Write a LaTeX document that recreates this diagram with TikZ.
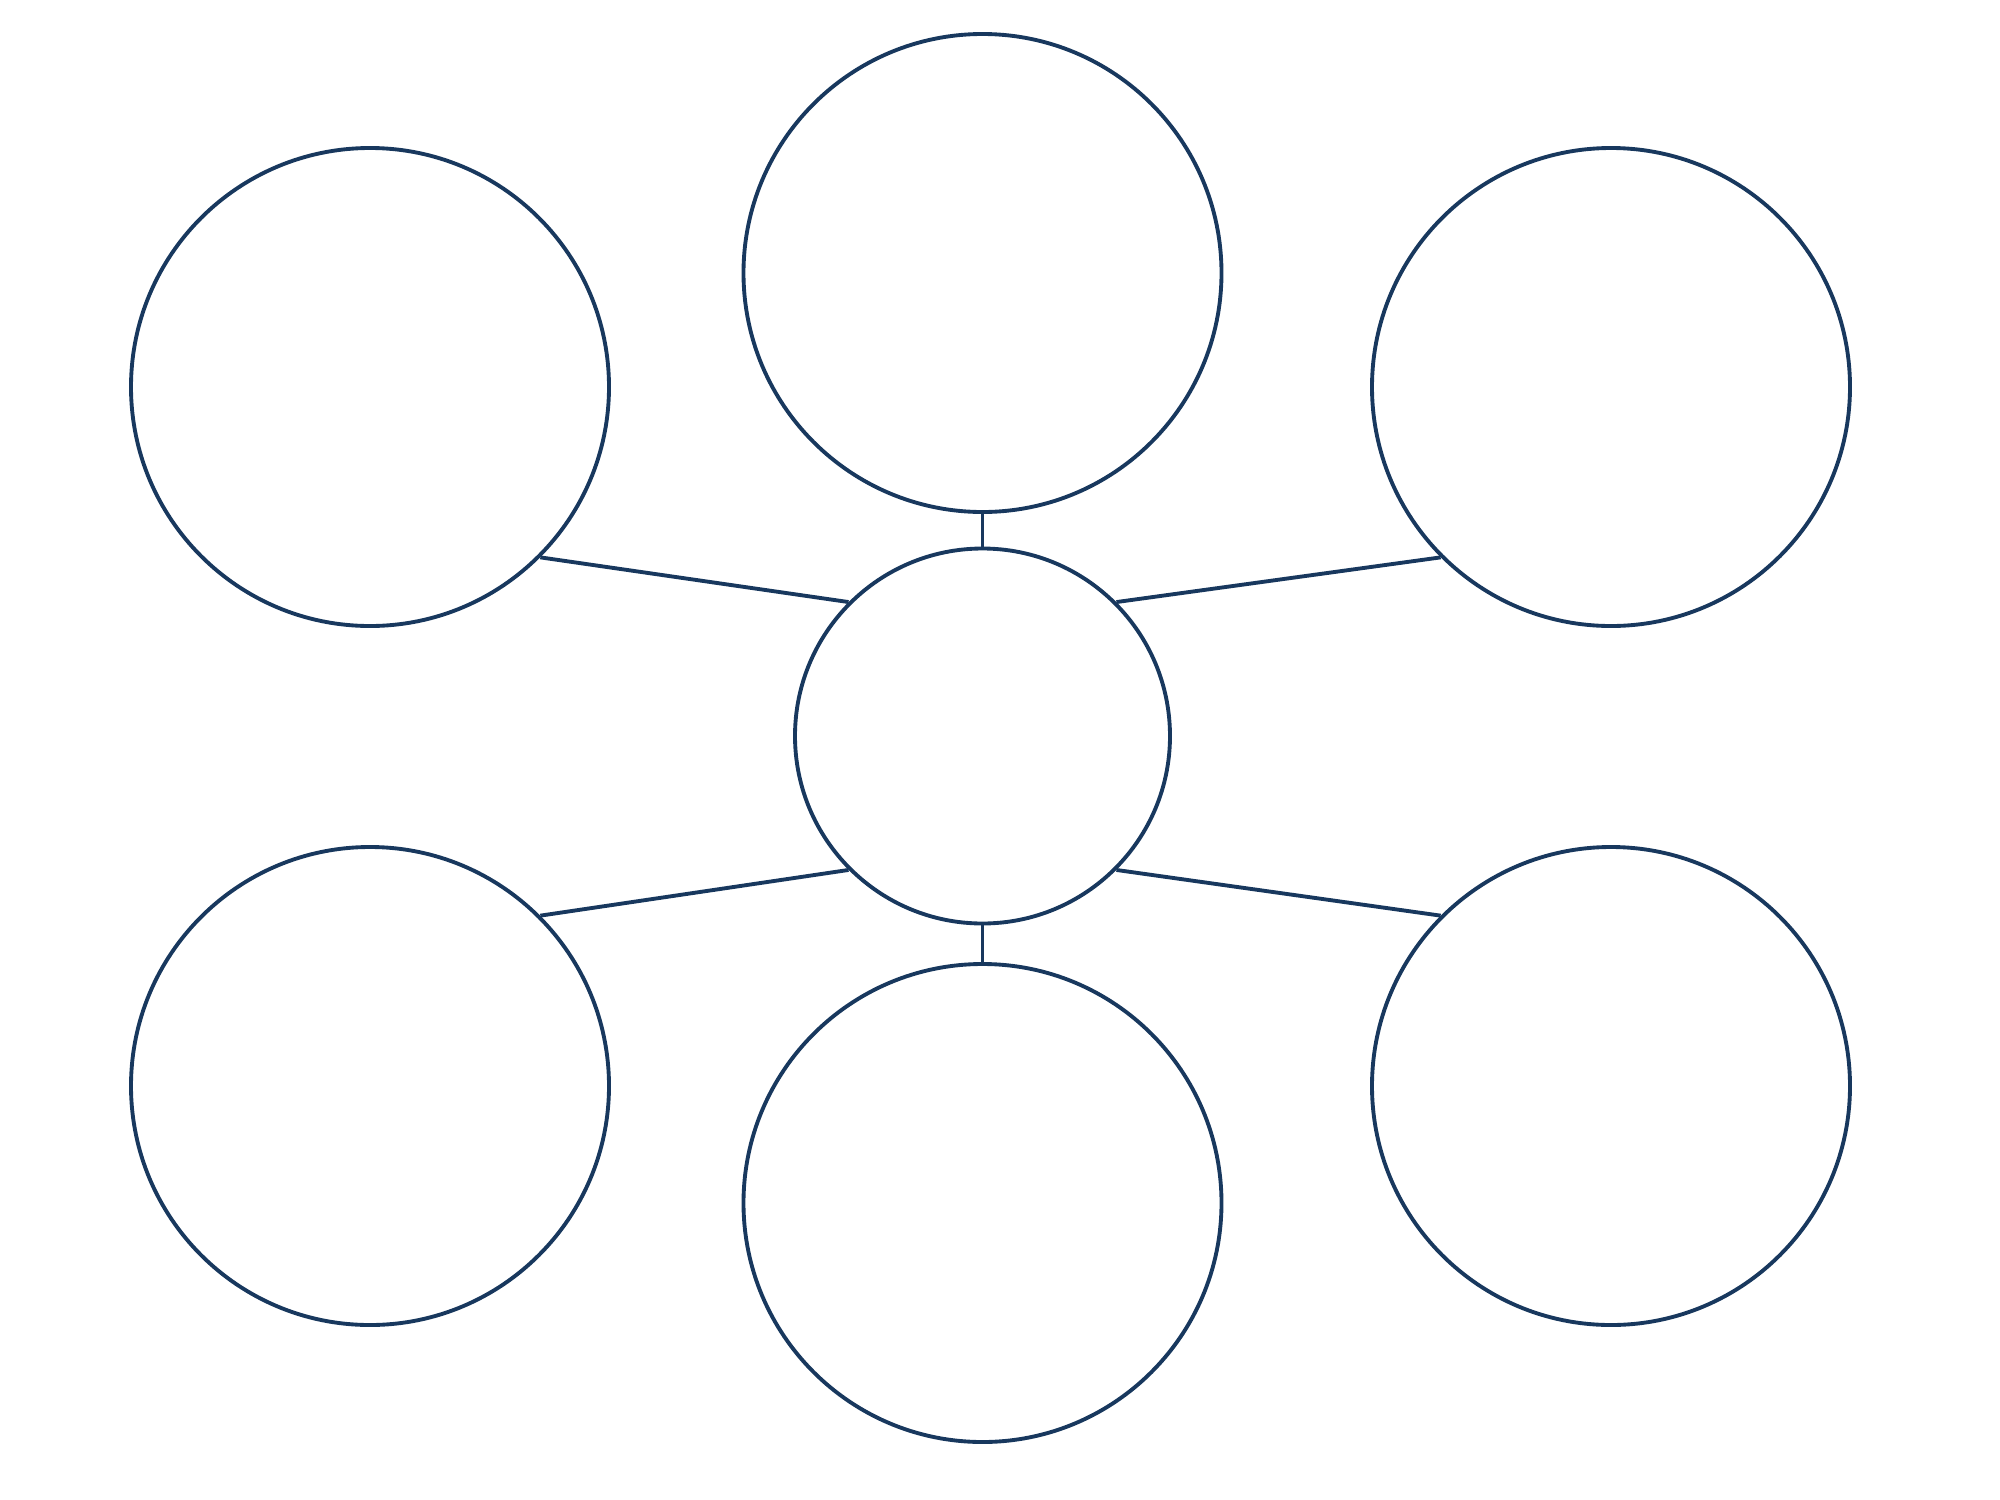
\documentclass[tikz,border=0pt]{standalone}
\usepackage{tikz}
\tikzset{every picture/.style={line width=0.75pt}}
\definecolor{bubbleline}{RGB}{24,56,94}
\tikzset{
  bigbubble/.style={circle, draw=bubbleline, line width=2.9pt, minimum size=358.5pt, inner sep=0pt},
  midbubble/.style={circle, draw=bubbleline, line width=2.9pt, minimum size=281.25pt, inner sep=0pt},
  spoke/.style={draw=bubbleline, line width=2.9pt}
}
\begin{document}
\begin{tikzpicture}[x=0.75pt,y=0.75pt,yscale=-1,xscale=1]
\useasboundingbox (0,0) rectangle (2000,1500);

%Shape: Circle [centre]
\node [midbubble] (hub) at (982.5,736) {};
%Shape: Circle [top]
\node [bigbubble] (topb) at (982.5,273) {};
%Shape: Circle [bottom]
\node [bigbubble] (botb) at (982.5,1203) {};
%Shape: Circle [left]
\node [bigbubble] (lefttop) at (370,387) {};
\node [bigbubble] (leftbot) at (370,1086) {};
%Shape: Circle [right]
\node [bigbubble] (righttop) at (1611,387) {};
\node [bigbubble] (rightbot) at (1611,1086) {};

%Straight Lines
\draw [spoke] (topb.south) -- (hub.north) ;
\draw [spoke] (botb.north) -- (hub.south) ;
\draw [spoke] (lefttop.-45) -- (hub.135) ;
\draw [spoke] (leftbot.45) -- (hub.-135) ;
\draw [spoke] (righttop.-135) -- (hub.45) ;
\draw [spoke] (rightbot.135) -- (hub.-45) ;
\end{tikzpicture}
\end{document}
